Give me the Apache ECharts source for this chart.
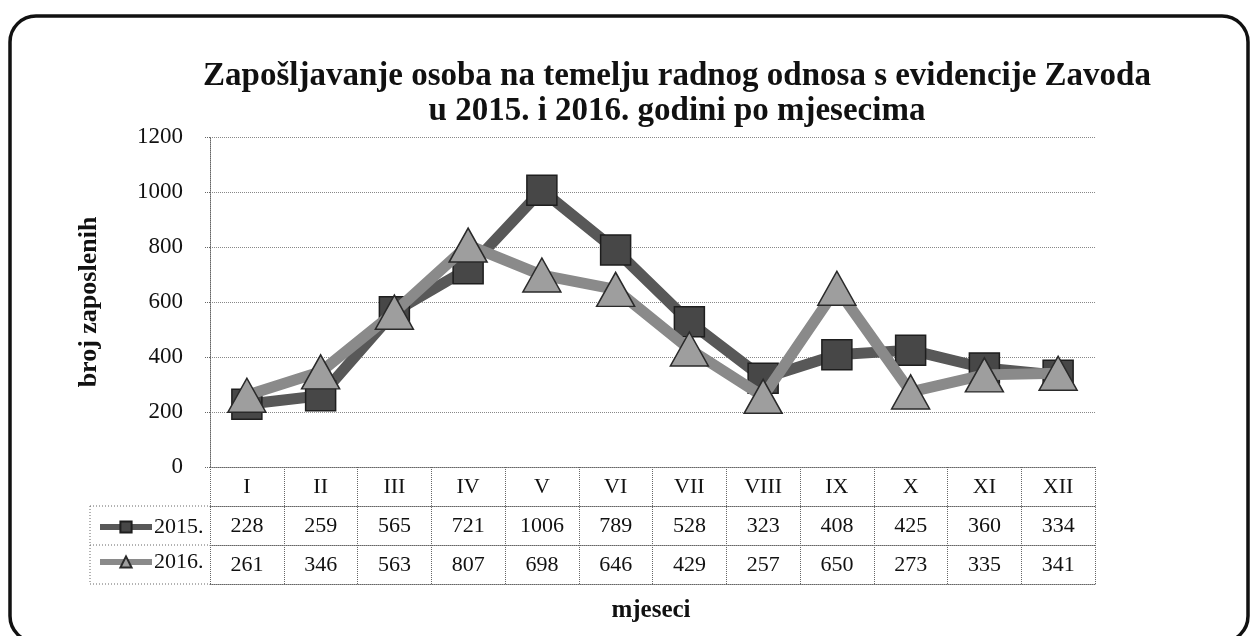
<!DOCTYPE html>
<html>
<head>
<meta charset="utf-8">
<script src="https://cdn.jsdelivr.net/npm/echarts@6/dist/echarts.min.js"></script>
<style>
  html, body { margin: 0; padding: 0; background: #fff; }
  #main { width: 1252px; height: 636px; }
</style>
</head>
<body>
<div id="main"></div>
<script>
var months = ['I', 'II', 'III', 'IV', 'V', 'VI', 'VII', 'VIII', 'IX', 'X', 'XI', 'XII'];
var v2015 = [228, 259, 565, 721, 1006, 789, 528, 323, 408, 425, 360, 334];
var v2016 = [261, 346, 563, 807, 698, 646, 429, 257, 650, 273, 335, 341];
var yTicks = [0, 200, 400, 600, 800, 1000, 1200];

var serif = 'Liberation Serif';
// plot box (px)
var L = 210, R = 1095, T = 137, B = 467;
var rowH = 39;
var dotted = { color: '#666', type: 'dotted', width: 1 };

var myChart = echarts.init(document.getElementById('main'));

function rowAxis(data, off, showLabel) {
    return {
        type: 'category',
        gridIndex: 0,
        position: 'bottom',
        offset: off,
        data: data,
        axisLine: { show: true, lineStyle: dotted },
        axisTick: { show: false },
        axisLabel: { show: showLabel, margin: 9, interval: 0, color: '#111', fontFamily: serif, fontSize: 22 },
        splitLine: { show: false }
    };
}

var option = {
    backgroundColor: '#fff',
    animation: false,
    title: {
        text: 'Zapošljavanje osoba na temelju radnog odnosa s evidencije Zavoda\nu 2015. i 2016. godini po mjesecima',
        left: 672,
        textAlign: 'center',
        top: 54,
        textStyle: { fontFamily: serif, fontWeight: 'bold', fontSize: 33, color: '#111', lineHeight: 35 }
    },
    legend: {
        orient: 'vertical',
        left: 92,
        top: 511,
        itemGap: 13,
        itemWidth: 52,
        itemHeight: 14,
        textStyle: { fontFamily: serif, fontSize: 22, color: '#111', padding: [0, 0, 0, -3] },
        data: [
            { name: '2015.', lineStyle: { width: 6 } },
            { name: '2016.', lineStyle: { width: 6 } }
        ]
    },
    grid: { left: L, right: 1252 - R, top: T, bottom: 636 - B },
    xAxis: [
        {
            type: 'category',
            data: months,
            axisLine: { show: true, lineStyle: dotted },
            axisTick: { show: true, interval: 0, length: rowH * 3, lineStyle: dotted },
            axisLabel: { margin: 9, interval: 0, color: '#111', fontFamily: serif, fontSize: 22 },
            splitLine: { show: false }
        },
        rowAxis(v2015.map(String), rowH, true),
        rowAxis(v2016.map(String), rowH * 2, true),
        rowAxis(months, rowH * 3, false)
    ],
    yAxis: {
        type: 'value',
        min: yTicks[0],
        max: yTicks[yTicks.length - 1],
        interval: 200,
        name: 'broj zaposlenih',
        nameLocation: 'middle',
        nameGap: 108,
        nameTextStyle: { fontFamily: serif, fontWeight: 'bold', fontSize: 26, color: '#111' },
        axisLine: { show: true, lineStyle: dotted },
        axisTick: { show: true, length: 6, lineStyle: dotted },
        axisLabel: {
            margin: 27, color: '#111', fontFamily: serif, fontSize: 23,
            formatter: function (v) { return String(v); }
        },
        splitLine: { show: true, lineStyle: { color: '#888', type: 'dotted', width: 1 } }
    },
    series: [
        {
            name: '2015.',
            type: 'line',
            data: v2015,
            symbol: 'rect',
            symbolSize: 30,
            lineStyle: { color: '#585858', width: 11 },
            itemStyle: { color: '#474747', borderColor: '#1e1e1e', borderWidth: 1.5 },
            z: 2
        },
        {
            name: '2016.',
            type: 'line',
            data: v2016,
            symbol: 'triangle',
            symbolSize: [38, 34],
            lineStyle: { color: '#8a8a8a', width: 11 },
            itemStyle: { color: '#9e9e9e', borderColor: '#2a2a2a', borderWidth: 1.5 },
            z: 3
        }
    ],
    graphic: [
        {
            type: 'rect',
            shape: { x: 10, y: 16, width: 1238, height: 626, r: 26 },
            style: { fill: 'none', stroke: '#111', lineWidth: 3.5 },
            silent: true
        },
        { type: 'line', shape: { x1: 90, y1: B + rowH, x2: L, y2: B + rowH }, style: { stroke: '#666', lineDash: [1, 2], lineWidth: 1 } },
        { type: 'line', shape: { x1: 90, y1: B + rowH * 2, x2: L, y2: B + rowH * 2 }, style: { stroke: '#666', lineDash: [1, 2], lineWidth: 1 } },
        { type: 'line', shape: { x1: 90, y1: B + rowH * 3, x2: L, y2: B + rowH * 3 }, style: { stroke: '#666', lineDash: [1, 2], lineWidth: 1 } },
        { type: 'line', shape: { x1: 90, y1: B + rowH, x2: 90, y2: B + rowH * 3 }, style: { stroke: '#666', lineDash: [1, 2], lineWidth: 1 } },
        {
            type: 'text',
            style: { text: 'mjeseci', x: 651, y: 611, textAlign: 'center', textVerticalAlign: 'middle', fontFamily: serif, fontWeight: 'bold', fontSize: 25, fill: '#111' }
        }
    ]
};
myChart.setOption(option);
</script>
</body>
</html>
